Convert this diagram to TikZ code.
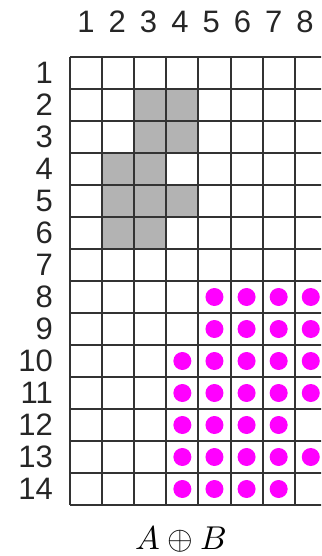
\documentclass[tikz,border=0pt]{standalone}
\usepackage{fontspec}
\setsansfont{Liberation Sans}
\definecolor{cellgray}{HTML}{B3B3B3}
\definecolor{gridline}{HTML}{333333}
\definecolor{dotmag}{HTML}{FF00FF}
\begin{document}
\begin{tikzpicture}[x=1pt,y=-1pt,
  gridstyle/.style={draw=gridline,line width=2pt},
  graycell/.style={fill=cellgray},
  dotstyle/.style={fill=dotmag},
  lbl/.style={font=\sffamily\fontsize{31}{31}\selectfont,inner sep=0pt,text=black!85}]
\useasboundingbox (0,0) rectangle (321,556);
\clip (0,0) rectangle (321,556);
\def\cw{32.1}
\def\rh{32}
% gray cells (col,row)
\foreach \c/\r in {3/2,4/2,3/3,4/3,2/4,3/4,2/5,3/5,4/5,2/6,3/6}
  \path[graycell] ({70+(\c-1)*\cw},{57+(\r-1)*\rh}) rectangle ++(\cw,\rh);
% grid
\foreach \i in {0,...,8}
  \draw[gridstyle] ({70+\i*\cw},57) -- ({70+\i*\cw},505);
\foreach \j in {0,...,14}
  \draw[gridstyle] (70,{57+\j*\rh}) -- ({70+8*\cw},{57+\j*\rh});
% dots
\foreach \r/\cs in {8/{5,6,7,8},9/{5,6,7,8},10/{4,5,6,7,8},11/{4,5,6,7,8},12/{4,5,6,7},13/{4,5,6,7,8},14/{4,5,6,7}}
  \foreach \c in \cs
    \path[dotstyle] ({70+(\c-0.5)*\cw},{57+(\r-0.5)*\rh}) circle (9);
% column labels
\foreach \i in {1,...,8}
  \node[lbl] (c\i) at ({86+(\i-1)*31.3},22) {\i};
% row labels
\foreach \i in {1,...,14}
  \node[lbl,anchor=east] (r\i) at (53,{73+(\i-1)*\rh}) {\i};
% caption
\node[inner sep=0pt,scale=3.3] (cap) at (181,540) {$A\oplus B$};
\end{tikzpicture}
\end{document}
